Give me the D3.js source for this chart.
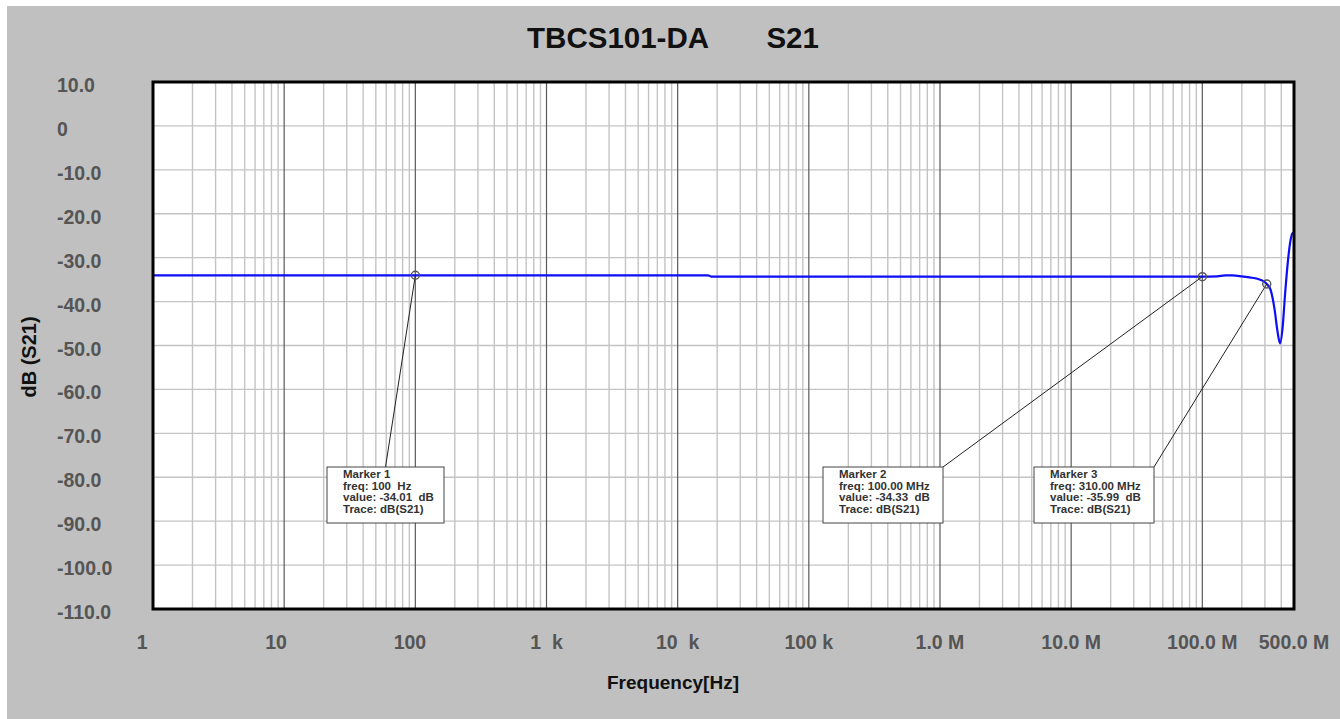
<!DOCTYPE html>
<html>
<head>
<meta charset="utf-8">
<script src="https://cdn.jsdelivr.net/npm/d3@7"></script>
<style>
  html, body { margin: 0; padding: 0; background: #ffffff; }
  svg { display: block; }
  text { font-family: "Liberation Sans", Arial, sans-serif; font-weight: bold; white-space: pre; }
</style>
</head>
<body>
<svg id="chart" width="1340" height="719"></svg>
<script>
// ---------- DATA ----------
const chartTitle = "TBCS101-DA\u00a0\u00a0\u00a0\u00a0\u00a0\u00a0\u00a0S21";
const xAxisTitle = "Frequency[Hz]";
const yAxisTitle = "dB (S21)";

// Frequency (Hz) of the trace samples
const freqHz = [1, 10, 100, 1e3, 1e4, 17000, 18000, 1e5, 1e6, 1e7, 1e8,
  1.3e8, 1.5e8, 1.7e8, 2.0e8, 2.3e8, 2.63e8, 2.9e8, 3.1e8, 3.32e8, 3.56e8,
  3.73e8, 3.91e8, 4.1e8, 4.26e8, 4.45e8, 4.66e8, 4.85e8, 5.0e8];
// dB(S21) of the trace samples
const s21dB = [-34.01, -34.01, -34.01, -34.01, -34.01, -34.01, -34.30, -34.31, -34.31, -34.32, -34.33,
  -34.25, -34.05, -34.05, -34.25, -34.5, -34.8, -35.3, -35.99, -37.4, -41.9,
  -46.5, -49.5, -45.7, -38.9, -32.1, -26.8, -24.5, -24.2];

// X tick values and labels
const xTickValues = [1, 10, 100, 1e3, 1e4, 1e5, 1e6, 1e7, 1e8, 5e8];
const xTickLabels = ["1\u00a0\u00a0\u00a0\u00a0", "10\u00a0\u00a0\u00a0", "100\u00a0\u00a0", "1\u00a0\u00a0k", "10\u00a0\u00a0k",
  "100\u00a0k", "1.0\u00a0M", "10.0\u00a0M", "100.0\u00a0M", "500.0\u00a0M"];
// Y tick values and labels
const yTickValues = [10, 0, -10, -20, -30, -40, -50, -60, -70, -80, -90, -100, -110];
const yTickLabels = ["10.0", "0", "-10.0", "-20.0", "-30.0", "-40.0", "-50.0", "-60.0", "-70.0",
  "-80.0", "-90.0", "-100.0", "-110.0"];

// Markers
const markerNames = ["Marker 1", "Marker 2", "Marker 3"];
const markerFreq = [100, 100e6, 310e6];
const markerValue = [-34.01, -34.33, -35.99];
const markerFreqText = ["100\u00a0\u00a0Hz", "100.00 MHz", "310.00 MHz"];
const markerValueText = ["-34.01\u00a0\u00a0dB", "-34.33\u00a0\u00a0dB", "-35.99\u00a0\u00a0dB"];
const markerTrace = ["dB(S21)", "dB(S21)", "dB(S21)"];

// ---------- LAYOUT ----------
const W = 1340, H = 719;
const plot = { left: 153, top: 82, right: 1294, bottom: 609 };
// annotation boxes: offsets relative to plot (pixels), and leader anchor on box top ("mid" / "right")
const boxLayout = [
  { dx: 174, dy: 385, w: 117, h: 56, anchor: "mid" },
  { dx: 670, dy: 385, w: 120, h: 56, anchor: "right" },
  { dx: 881, dy: 385, w: 120, h: 56, anchor: "right" }
];

const svg = d3.select("#chart");

// outer panel
svg.append("rect").attr("x", 0).attr("y", 0).attr("width", W).attr("height", H).attr("fill", "#ffffff");
svg.append("rect").attr("x", 7).attr("y", 6).attr("width", W - 7).attr("height", H - 6).attr("fill", "#c0c0c0");

const x = d3.scaleLog().domain([1, 5e8]).range([plot.left, plot.right]);
const y = d3.scaleLinear().domain([-110, 10]).range([plot.bottom, plot.top]);

// plot background
svg.append("rect")
  .attr("x", plot.left).attr("y", plot.top)
  .attr("width", plot.right - plot.left).attr("height", plot.bottom - plot.top)
  .attr("fill", "#ffffff");

// vertical grid: minor lines (2..9 per decade) and decade lines
const minorX = [];
const majorX = [];
for (let e = 0; e <= 8; e++) {
  const base = Math.pow(10, e);
  if (e > 0) majorX.push(base);
  for (let m = 2; m <= 9; m++) {
    const v = m * base;
    if (v < 5e8) minorX.push(v);
  }
}
const gGrid = svg.append("g");
gGrid.selectAll("line.minx").data(minorX).join("line")
  .attr("x1", d => x(d)).attr("x2", d => x(d))
  .attr("y1", plot.top).attr("y2", plot.bottom)
  .attr("stroke", "#c4c4c4").attr("stroke-width", 1.4);

// horizontal grid
gGrid.selectAll("line.hy").data(yTickValues).join("line")
  .attr("x1", plot.left).attr("x2", plot.right)
  .attr("y1", d => y(d)).attr("y2", d => y(d))
  .attr("stroke", "#c4c4c4").attr("stroke-width", 1.4);

gGrid.selectAll("line.majx").data(majorX).join("line")
  .attr("x1", d => x(d)).attr("x2", d => x(d))
  .attr("y1", plot.top).attr("y2", plot.bottom)
  .attr("stroke", "#5a5a5a").attr("stroke-width", 1.2);

// trace
const pts = freqHz.map((f, i) => [f, s21dB[i]]);
const line = d3.line().x(d => x(d[0])).y(d => y(d[1])).curve(d3.curveMonotoneX);
svg.append("path").datum(pts)
  .attr("d", line)
  .attr("fill", "none")
  .attr("stroke", "#0d0dfa")
  .attr("stroke-width", 2.2);

// markers, leaders, boxes
markerNames.forEach((name, i) => {
  const mx = x(markerFreq[i]);
  const my = y(markerValue[i]);
  const b = boxLayout[i];
  const bx = plot.left + b.dx, by = plot.top + b.dy;
  const ax = b.anchor === "mid" ? bx + b.w / 2 : bx + b.w;
  svg.append("line")
    .attr("x1", mx).attr("y1", my).attr("x2", ax).attr("y2", by)
    .attr("stroke", "#222").attr("stroke-width", 1);
  svg.append("circle")
    .attr("cx", mx).attr("cy", my).attr("r", 4)
    .attr("fill", "none").attr("stroke", "#555").attr("stroke-width", 1.4);
  svg.append("rect")
    .attr("x", bx).attr("y", by).attr("width", b.w).attr("height", b.h)
    .attr("fill", "#ffffff").attr("stroke", "#444").attr("stroke-width", 1);
  const lines = [name, "freq: " + markerFreqText[i], "value: " + markerValueText[i], "Trace: " + markerTrace[i]];
  svg.append("g").selectAll("text").data(lines).join("text")
    .attr("x", bx + 16)
    .attr("y", (d, j) => by + 11 + j * 11.6)
    .attr("font-size", 11.5)
    .attr("fill", "#333")
    .text(d => d);
});

// plot border
svg.append("rect")
  .attr("x", plot.left).attr("y", plot.top)
  .attr("width", plot.right - plot.left).attr("height", plot.bottom - plot.top)
  .attr("fill", "none").attr("stroke", "#000").attr("stroke-width", 3);

// y tick labels
svg.append("g").selectAll("text").data(yTickValues).join("text")
  .attr("x", 57)
  .attr("y", d => y(d) + 10)
  .attr("font-size", 19.5)
  .attr("fill", "#555")
  .text((d, i) => yTickLabels[i]);

// x tick labels
svg.append("g").selectAll("text").data(xTickValues).join("text")
  .attr("x", d => x(d))
  .attr("y", 649)
  .attr("text-anchor", "middle")
  .attr("font-size", 19.5)
  .attr("fill", "#555")
  .text((d, i) => xTickLabels[i]);

// title
svg.append("text")
  .attr("x", 673).attr("y", 48)
  .attr("text-anchor", "middle")
  .attr("font-size", 29.5)
  .attr("fill", "#111")
  .text(chartTitle);

// axis titles
svg.append("text")
  .attr("x", 673).attr("y", 689)
  .attr("text-anchor", "middle")
  .attr("font-size", 19)
  .attr("fill", "#111")
  .text(xAxisTitle);

svg.append("text")
  .attr("transform", "translate(36,357) rotate(-90)")
  .attr("text-anchor", "middle")
  .attr("font-size", 20)
  .attr("fill", "#111")
  .text(yAxisTitle);
</script>
</body>
</html>
